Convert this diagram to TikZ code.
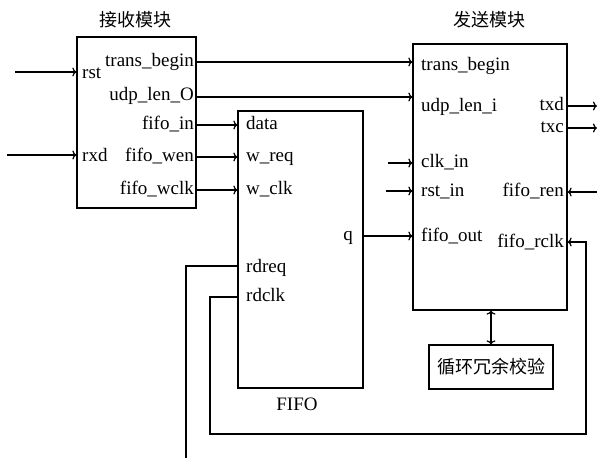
\documentclass[tikz,border=0pt]{standalone}
\usepackage{fontspec}
\setmainfont{Liberation Serif}
\newfontfamily\cjk{Noto Sans CJK SC}
\usetikzlibrary{arrows.meta}
\begin{document}
\begin{tikzpicture}[x=1pt,y=-1pt,
  blk/.style={draw,line width=1.3pt,inner sep=0pt},
  lbl/.style={inner sep=0pt,font=\fontsize{19}{21}\selectfont,text height=9pt,text depth=0pt},
  ttl/.style={inner sep=0pt,font=\cjk\fontsize{18}{20}\selectfont},
  wire/.style={line width=1.2pt},
  arr/.style={wire,-{To[length=4pt,width=9pt]}},
  darr/.style={wire,{To[length=4pt,width=9pt]}-{To[length=4pt,width=9pt]}}
]
\fill[white] (0,0) rectangle (597,458);
\useasboundingbox (0,0) rectangle (597,458);

% blocks
\node[blk,minimum width=119pt,minimum height=171pt] (recv) at (136.5,122.5) {};
\node[blk,minimum width=125pt,minimum height=277pt] (fifo) at (300.5,249.5) {};
\node[blk,minimum width=154pt,minimum height=266pt] (send) at (490,177) {};
\node[blk,minimum width=124pt,minimum height=44pt,font=\cjk\fontsize{18}{20}\selectfont] (crc) at (491,367) {循环冗余校验};

% titles
\node[ttl] (t1) at (135,20) {接收模块};
\node[ttl] (t2) at (489,20) {发送模块};
\node[lbl] (t3) at (297,406) {FIFO};

% receive ports
\node[lbl,anchor=west] (r_rst) at (82,74) {rst};
\node[lbl,anchor=west] (r_rxd) at (82,157) {rxd};
\node[lbl,anchor=east] (r_tb) at (194,62) {trans\_begin};
\node[lbl,anchor=east] (r_udp) at (194,96) {udp\_len\_O};
\node[lbl,anchor=east] (r_fin) at (194,125) {fifo\_in};
\node[lbl,anchor=east] (r_wen) at (194,157) {fifo\_wen};
\node[lbl,anchor=east] (r_wclk) at (194,190) {fifo\_wclk};

% fifo ports
\node[lbl,anchor=west] (f_data) at (246,125) {data};
\node[lbl,anchor=west] (f_wreq) at (246,157) {w\_req};
\node[lbl,anchor=west] (f_wclk) at (246,190) {w\_clk};
\node[lbl,anchor=east] (f_q) at (353,236) {q};
\node[lbl,anchor=west] (f_rdreq) at (246,268) {rdreq};
\node[lbl,anchor=west] (f_rdclk) at (246,297) {rdclk};

% send ports
\node[lbl,anchor=west] (s_tb) at (421,66) {trans\_begin};
\node[lbl,anchor=west] (s_udp) at (421,107) {udp\_len\_i};
\node[lbl,anchor=west] (s_clk) at (421,163) {clk\_in};
\node[lbl,anchor=west] (s_rst) at (421,192) {rst\_in};
\node[lbl,anchor=west] (s_fout) at (421,237) {fifo\_out};
\node[lbl,anchor=east] (s_txd) at (564,106) {txd};
\node[lbl,anchor=east] (s_txc) at (564,128) {txc};
\node[lbl,anchor=east] (s_ren) at (564,192) {fifo\_ren};
\node[lbl,anchor=east] (s_rclk) at (564,243) {fifo\_rclk};

% free ends
\coordinate (inRst) at (15,72);
\coordinate (inRxd) at (7,155);
\coordinate (inClk) at (388,163);
\coordinate (inRstS) at (386,191);
\coordinate (outTxd) at (597,106);
\coordinate (outTxc) at (597,128);
\coordinate (inRen) at (597,192);
\coordinate (rdEnd) at (186,458);

% connectors
\draw[arr] (inRst) -- (inRst -| recv.west);
\draw[arr] (inRxd) -- (inRxd -| recv.west);
\draw[arr] (recv.east |- 0,62) -- (send.west |- 0,62);
\draw[arr] (recv.east |- 0,97) -- (send.west |- 0,97);
\draw[arr] (recv.east |- r_fin) -- (fifo.west |- r_fin);
\draw[arr] (recv.east |- r_wen) -- (fifo.west |- r_wen);
\draw[arr] (recv.east |- r_wclk) -- (fifo.west |- r_wclk);
\draw[arr] (inClk) -- (inClk -| send.west);
\draw[arr] (inRstS) -- (inRstS -| send.west);
\draw[arr] (send.east |- s_txd) -- (outTxd);
\draw[arr] (send.east |- s_txc) -- (outTxc);
\draw[arr] (inRen) -- (inRen -| send.east);
\draw[arr] (fifo.east |- 0,236) -- (send.west |- 0,236);
\draw[arr] (fifo.west |- 0,297) -- (210,297) -- (210,434) -- (586,434) -- (586,242) -- (send.east |- 0,242);
\draw[wire] (fifo.west |- 0,266) -- (186,266) -- (rdEnd);
\draw[darr] (crc.north |- send.south) -- (crc.north);
\end{tikzpicture}
\end{document}
